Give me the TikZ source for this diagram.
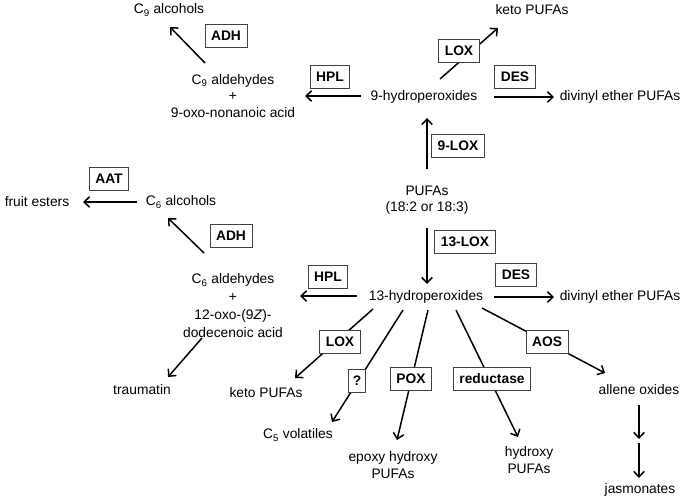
\documentclass[tikz,border=0pt]{standalone}
\usepackage{fontspec}
\setmainfont{Liberation Sans}
\usetikzlibrary{arrows.meta}
\begin{document}
\begin{tikzpicture}[x=1pt,y=-1pt,
  every node/.style={font=\fontsize{13.8}{16.5}\selectfont, inner sep=1pt},
  txt/.style={align=center},
  enz/.style={draw=black!75, line width=0.9pt, fill=white, font=\fontsize{13.8}{16.5}\selectfont\bfseries,
     inner xsep=6pt, inner ysep=0pt, minimum height=23pt},
  arr/.style={line width=1.5pt, -{Straight Barb[length=5.5pt,width=10.5pt]}},
  ln/.style={line width=1.5pt}]
\useasboundingbox (0,0) rectangle (685,501);

% ---- products / intermediates ----
\node[txt] (c9alc) at (169,10) {C\textsubscript{9} alcohols};
\node[txt, font=\fontsize{13.8}{16.5}\selectfont] (c9ald) at (233,96) {C\textsubscript{9} aldehydes\\+\\9-oxo-nonanoic acid};
\node[txt] (h9) at (424,97) {9-hydroperoxides};
\node[txt] (keto1) at (532,10) {keto PUFAs};
\node[txt] (div1) at (620,97) {divinyl ether PUFAs};
\node[txt] (pufa) at (427,200) {PUFAs\\(18:2 or 18:3)};
\node[txt] (h13) at (426,297) {13-hydroperoxides};
\node[txt] (div2) at (620,297) {divinyl ether PUFAs};
\node[txt, font=\fontsize{13.8}{18}\selectfont] (c6ald) at (233,306) {C\textsubscript{6} aldehydes\\+\\12-oxo-(9\textit{Z})-\\dodecenoic acid};
\node[txt] (c6alc) at (181,202) {C\textsubscript{6} alcohols};
\node[txt] (fruit) at (37,202) {fruit esters};
\node[txt] (traum) at (142,390) {traumatin};
\node[txt] (keto2) at (266,393) {keto PUFAs};
\node[txt] (c5) at (298,435) {C\textsubscript{5} volatiles};
\node[txt] (epoxy) at (393,465) {epoxy hydroxy\\PUFAs};
\node[txt] (hydroxy) at (529,460) {hydroxy\\PUFAs};
\node[txt] (allene) at (639,390) {allene oxides};
\node[txt] (jas) at (640,490) {jasmonates};

% ---- connector end points ----
\coordinate (a1s) at (205,63);  \coordinate (a1e) at (170,27);
\coordinate (a2s) at (361,96);  \coordinate (a2e) at (305,96);
\coordinate (a3s) at (440,79);  \coordinate (a3e) at (498,28);
\coordinate (a4s) at (494,97);  \coordinate (a4e) at (554,97);
\coordinate (a5s) at (427,169); \coordinate (a5e) at (427,118);
\coordinate (a6s) at (427,228); \coordinate (a6e) at (427,284);
\coordinate (a7s) at (357,296); \coordinate (a7e) at (300,296);
\coordinate (a8s) at (494,297); \coordinate (a8e) at (554,297);
\coordinate (a9s) at (204,253); \coordinate (a9e) at (168,218);
\coordinate (a10s) at (137,202); \coordinate (a10e) at (83,202);
\coordinate (a11s) at (202,338); \coordinate (a11e) at (168,377);
\coordinate (a12s) at (373,309); \coordinate (a12e) at (295,378);
\coordinate (a13s) at (403,310); \coordinate (a13e) at (332,422);
\coordinate (a14s) at (428,310); \coordinate (a14e) at (397,440);
\coordinate (a15s) at (456,310); \coordinate (a15e) at (518,437);
\coordinate (a16s) at (482,308); \coordinate (a16e) at (605,373);
\coordinate (a17s) at (639,405); \coordinate (a17e) at (639,439);
\coordinate (a18s) at (639,443); \coordinate (a18e) at (639,478);

% ---- connectors ----
\draw[arr] (a1s) -- (a1e);
\draw[arr] (a2s) -- (a2e);
\draw[arr] (a3s) -- (a3e);
\draw[arr] (a4s) -- (a4e);
\draw[arr] (a5s) -- (a5e);
\draw[arr] (a6s) -- (a6e);
\draw[arr] (a7s) -- (a7e);
\draw[arr] (a8s) -- (a8e);
\draw[arr] (a9s) -- (a9e);
\draw[arr] (a10s) -- (a10e);
\draw[arr] (a11s) -- (a11e);
\draw[arr] (a12s) -- (a12e);
\draw[arr] (a13s) -- (a13e);
\draw[arr] (a14s) -- (a14e);
\draw[arr] (a15s) -- (a15e);
\draw[arr] (a16s) -- (a16e);
\draw[arr] (a17s) -- (a17e);
\draw[arr] (a18s) -- (a18e);

% ---- enzyme boxes ----
\node[enz] (adh1) at (226,36) {ADH};
\node[enz] (hpl1) at (330,77) {HPL};
\node[enz] (lox1) at (459,51) {LOX};
\node[enz] (des1) at (515,77) {DES};
\node[enz] (lox9) at (458,146) {9-LOX};
\node[enz] (lox13) at (465,242) {13-LOX};
\node[enz] (des2) at (516,275) {DES};
\node[enz] (hpl2) at (328,277) {HPL};
\node[enz] (adh2) at (231,236) {ADH};
\node[enz] (aat) at (109,179) {AAT};
\node[enz] (lox2) at (340,342) {LOX};
\node[enz, inner xsep=4pt] (q) at (357,381) {?};
\node[enz] (pox) at (411,379) {POX};
\node[enz] (red) at (492,379) {reductase};
\node[enz] (aos) at (547,342) {AOS};
\end{tikzpicture}
\end{document}
